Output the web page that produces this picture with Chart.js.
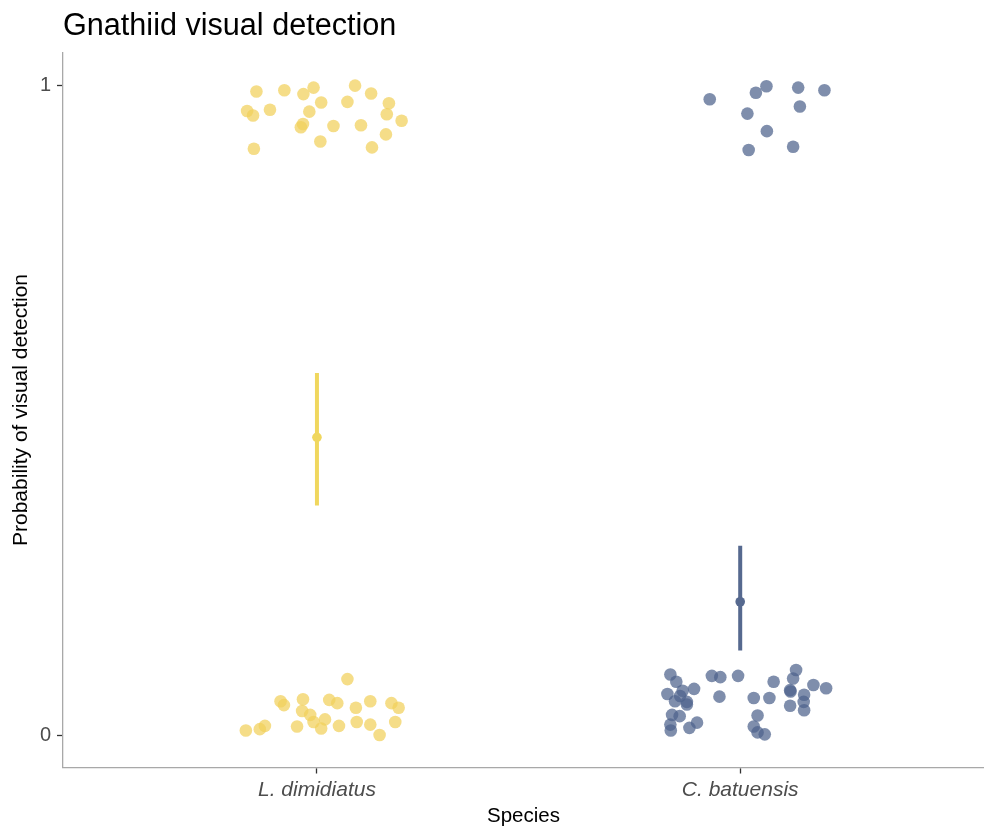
<!DOCTYPE html>
<html>
<head>
<meta charset="utf-8">
<script src="https://cdn.jsdelivr.net/npm/chart.js@4/dist/chart.umd.min.js"></script>
<style>
  html, body { margin: 0; padding: 0; background: #ffffff; }
  #wrap { width: 984px; height: 830px; }
</style>
</head>
<body>
<div id="wrap"><canvas id="c" width="984" height="830"></canvas></div>
<script>
// Species on the x axis (positions 1 and 2)
const species = ["L. dimidiatus", "C. batuensis"];

// Jittered raw observations (x = species position + jitter, y = detected 0/1 + jitter)
const ldX = [0.857, 0.923, 0.968, 0.992, 1.090, 1.128, 1.170, 1.010, 1.072, 0.889, 0.835, 0.849,
             0.982, 1.165, 1.200, 0.967, 0.962, 1.039, 1.104, 1.163, 1.008, 0.851, 1.130,
             1.072, 0.914, 0.922, 0.967, 1.029, 1.048, 1.092, 1.126, 1.176, 1.193, 0.965, 0.984,
             0.992, 1.019, 1.010, 0.953, 1.052, 1.094, 1.126, 1.185, 1.148, 0.832, 0.865, 0.877];
const ldY = [0.990, 0.992, 0.986, 0.996, 0.999, 0.987, 0.972, 0.973, 0.974, 0.962, 0.960, 0.953,
             0.959, 0.955, 0.945, 0.940, 0.935, 0.937, 0.938, 0.924, 0.913, 0.902, 0.904,
             0.086, 0.052, 0.046, 0.055, 0.054, 0.049, 0.042, 0.052, 0.049, 0.042, 0.037, 0.031,
             0.020, 0.024, 0.010, 0.013, 0.014, 0.020, 0.016, 0.020, 0.000, 0.007, 0.009, 0.014];

const cbX = [1.928, 2.037, 2.062, 2.137, 2.199, 2.141, 2.017, 2.063, 2.020, 2.125,
             1.835, 1.849, 1.933, 1.953, 1.995, 2.132, 2.125, 2.079, 2.173, 2.203, 1.891, 1.828,
             1.864, 1.858, 1.846, 1.874, 1.874, 1.951, 2.032, 2.069, 2.118, 2.119, 2.151, 2.150,
             2.118, 2.151, 1.839, 1.857, 1.835, 1.836, 1.898, 1.880, 2.041, 2.032, 2.041, 2.058];
const cbY = [0.978, 0.988, 0.998, 0.996, 0.992, 0.967, 0.956, 0.929, 0.900, 0.905,
             0.093, 0.082, 0.091, 0.089, 0.091, 0.100, 0.087, 0.082, 0.077, 0.072, 0.071, 0.063,
             0.068, 0.060, 0.052, 0.051, 0.047, 0.059, 0.057, 0.057, 0.069, 0.067, 0.062, 0.051,
             0.045, 0.038, 0.031, 0.029, 0.016, 0.007, 0.019, 0.011, 0.030, 0.013, 0.004, 0.001];

// Model estimates with confidence intervals
const estMean = [0.458, 0.205];
const estLow  = [0.353, 0.130];
const estHigh = [0.557, 0.291];

// Axis ticks
const yTicks = [0, 1];
const yTickLabels = ["0", "1"];

const pts = (xs, ys) => xs.map((x, i) => ({ x: x, y: ys[i] }));

const yellowPt = "rgba(241, 208, 90, 0.72)";
const bluePt = "rgba(78, 98, 140, 0.72)";
const yellowBar = "#f0d75e";
const blueBar = "#56698f";

const FONT = '"Liberation Sans", Arial, sans-serif';

const titlePlugin = {
  id: "plotTitle",
  afterDraw(chart) {
    const ctx = chart.ctx;
    ctx.save();
    ctx.font = "30.6px " + FONT;
    ctx.fillStyle = "#000000";
    ctx.textAlign = "left";
    ctx.textBaseline = "alphabetic";
    ctx.fillText("Gnathiid visual detection", 63, 35);
    ctx.restore();
  }
};

new Chart(document.getElementById("c"), {
  type: "scatter",
  data: {
    datasets: [
      { label: species[0], data: pts(ldX, ldY), backgroundColor: yellowPt, borderWidth: 0, pointRadius: 6.3, pointHoverRadius: 6.3 },
      { label: species[1], data: pts(cbX, cbY), backgroundColor: bluePt, borderWidth: 0, pointRadius: 6.3, pointHoverRadius: 6.3 },
      { type: "line", label: "ci1", data: [{ x: 1, y: estLow[0] }, { x: 1, y: estHigh[0] }], borderColor: yellowBar, borderWidth: 4, pointRadius: 0, showLine: true },
      { type: "line", label: "ci2", data: [{ x: 2, y: estLow[1] }, { x: 2, y: estHigh[1] }], borderColor: blueBar, borderWidth: 4, pointRadius: 0, showLine: true },
      { label: "m1", data: [{ x: 1, y: estMean[0] }], backgroundColor: yellowBar, borderWidth: 0, pointRadius: 4.8 },
      { label: "m2", data: [{ x: 2, y: estMean[1] }], backgroundColor: blueBar, borderWidth: 0, pointRadius: 4.8 }
    ]
  },
  options: {
    responsive: false,
    animation: false,
    layout: { autoPadding: false, padding: { top: 52.5, right: 0, bottom: 0, left: 0 } },
    plugins: { legend: { display: false }, tooltip: { enabled: false }, title: { display: false } },
    scales: {
      x: {
        type: "linear",
        min: 0.4,
        max: 2.576,
        afterBuildTicks(axis) { axis.ticks = [{ value: 1 }, { value: 2 }]; },
        afterFit(axis) {
          axis.height = 62.5;
          axis.paddingLeft = 0;
          axis.paddingRight = 0;
        },
        ticks: {
          callback: (v) => species[Math.round(v) - 1],
          font: { family: FONT, size: 21, style: "italic" },
          color: "#4d4d4d",
          padding: 4,
          maxRotation: 0
        },
        grid: { drawOnChartArea: false, drawTicks: true, tickLength: 6, tickWidth: 1.3, tickColor: "#333333" },
        border: { display: true, color: "#a8a8a8", width: 1.3 },
        title: { display: true, text: "Species", font: { family: FONT, size: 20.5 }, color: "#000000", padding: { top: 4, bottom: 1 } }
      },
      y: {
        type: "linear",
        min: -0.05,
        max: 1.05,
        afterBuildTicks(axis) { axis.ticks = yTicks.map(v => ({ value: v })); },
        afterFit(axis) {
          axis.width = 63;
          axis.paddingTop = 0;
          axis.paddingBottom = 0;
        },
        ticks: {
          callback: (v) => yTickLabels[yTicks.indexOf(v)],
          font: { family: FONT, size: 20 },
          color: "#4d4d4d",
          padding: 6
        },
        grid: { drawOnChartArea: false, drawTicks: true, tickLength: 6, tickWidth: 1.3, tickColor: "#333333" },
        border: { display: true, color: "#a8a8a8", width: 1.3 },
        title: { display: true, text: "Probability of visual detection", font: { family: FONT, size: 21 }, color: "#000000", padding: { top: 9, bottom: 0 } }
      }
    }
  },
  plugins: [titlePlugin]
});
</script>
</body>
</html>
